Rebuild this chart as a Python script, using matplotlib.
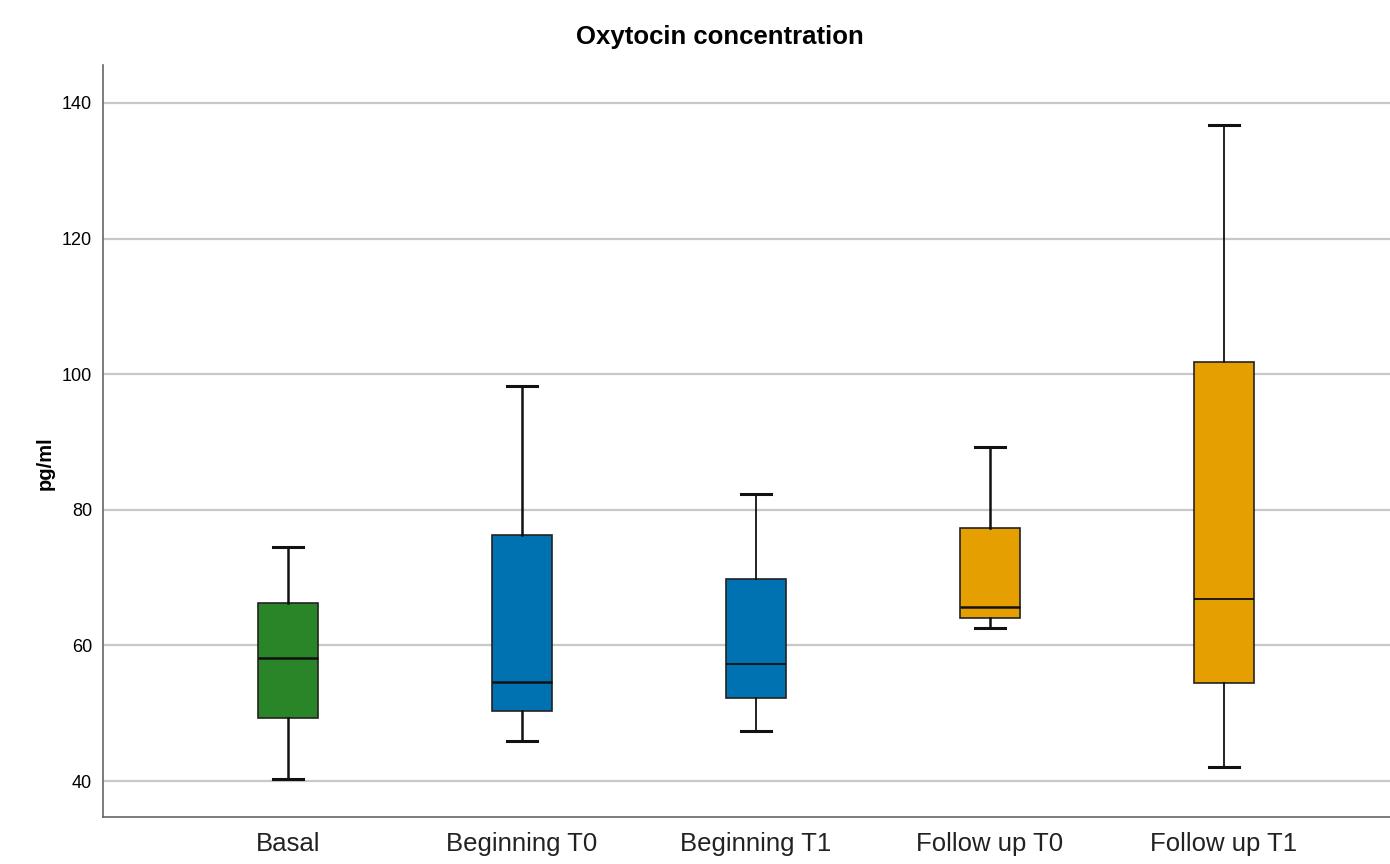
import matplotlib
matplotlib.use("Agg")
import matplotlib.pyplot as plt

categories = ["Basal", "Beginning T0", "Beginning T1", "Follow up T0", "Follow up T1"]
whislo = [40.3, 45.9, 47.4, 62.6, 42.1]
q1 = [49.3, 50.3, 52.2, 64.0, 54.5]
med = [58.1, 54.6, 57.3, 65.7, 66.8]
q3 = [66.3, 76.3, 69.8, 77.3, 101.8]
whishi = [74.5, 98.3, 82.3, 89.3, 136.8]
colors = ["#2a8428", "#0072b2", "#0072b2", "#e69f00", "#e69f00"]
yticks = [40, 60, 80, 100, 120, 140]

plt.rcParams['font.family'] = ['Liberation Sans', 'DejaVu Sans']

fig = plt.figure(figsize=(13.9, 8.64), dpi=100)
ax = fig.add_axes([103/1390, 47/864, 1 - 103/1390, (817-65)/864])

stats = []
for i, c in enumerate(categories):
    stats.append(dict(label=c, whislo=whislo[i], q1=q1[i], med=med[i], q3=q3[i], whishi=whishi[i], fliers=[]))

bp = ax.bxp(stats, positions=range(len(categories)), widths=0.256, patch_artist=True,
            showfliers=False, capwidths=0.128,
            boxprops=dict(edgecolor="#222222", linewidth=1.2),
            medianprops=dict(color="#111111", linewidth=1.8),
            whiskerprops=dict(color="#111111", linewidth=1.8),
            capprops=dict(color="#111111", linewidth=2.2), zorder=3)
for patch, col in zip(bp['boxes'], colors):
    patch.set_facecolor(col)
for i in (2, 4):
    for w in bp['whiskers'][2*i:2*i+2]:
        w.set_linewidth(1.3)
    bp['medians'][i].set_linewidth(1.3)

ax.set_xlim(-0.79, 4.71)
ax.set_ylim(34.7, 145.6)
ax.set_yticks(yticks)
ax.set_yticklabels([str(t) for t in yticks], fontsize=13)
ax.set_xticks(range(len(categories)))
ax.set_xticklabels(categories, fontsize=18.5, color="#222222")
ax.tick_params(axis='both', length=0, pad=8)
ax.tick_params(axis='x', pad=11)
ax.yaxis.grid(True, color="#c8c8c8", linewidth=1.6, zorder=0)
ax.set_axisbelow(True)
for s in ["top", "right"]:
    ax.spines[s].set_visible(False)
for s in ["left", "bottom"]:
    ax.spines[s].set_color("#666666")
    ax.spines[s].set_linewidth(1.2)

fig.text(45/1390, 1 - 463/864, "pg/ml", rotation=90, fontsize=14.5, fontweight="bold", ha="center", va="center")
fig.text(720/1390, 1 - 37/864, "Oxytocin concentration", fontsize=18.5, fontweight="bold", ha="center", va="center")

fig.savefig("out.png", dpi=100)
